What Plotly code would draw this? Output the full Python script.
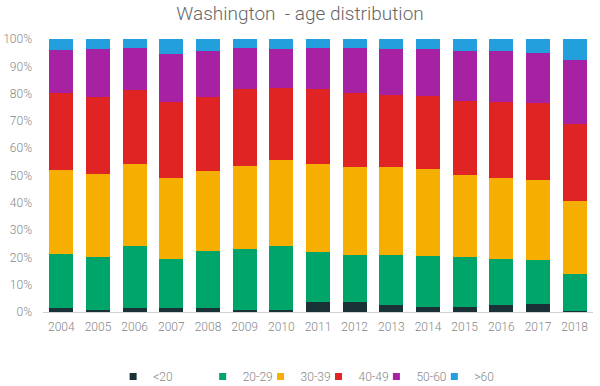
import plotly.graph_objects as go

years = ["2004", "2005", "2006", "2007", "2008", "2009", "2010", "2011",
         "2012", "2013", "2014", "2015", "2016", "2017", "2018"]

age_lt20 = [1.3, 0.9, 1.3, 1.3, 1.6, 0.9, 0.9, 3.5, 3.5, 2.4, 2.0, 2.0, 2.4, 3.1, 0.5]
age_20_29 = [20.1, 19.4, 23.0, 18.2, 20.7, 22.0, 23.4, 18.5, 17.5, 18.6, 18.6, 18.3, 17.1, 16.1, 13.6]
age_30_39 = [30.7, 30.3, 30.0, 29.7, 29.5, 30.7, 31.5, 32.3, 32.1, 32.1, 31.8, 30.0, 29.7, 29.2, 26.7]
age_40_49 = [28.2, 28.2, 27.1, 27.9, 27.0, 28.1, 26.4, 27.4, 27.2, 26.4, 26.9, 27.0, 27.9, 28.0, 28.2]
age_50_60 = [15.7, 17.5, 15.3, 17.4, 16.8, 15.0, 14.1, 15.0, 16.4, 16.8, 17.0, 18.3, 18.5, 18.5, 23.3]
age_gt60 = [4.0, 3.7, 3.3, 5.5, 4.4, 3.3, 3.7, 3.3, 3.3, 3.7, 3.7, 4.4, 4.4, 5.1, 7.7]

series_names = ["<20", "20-29", "30-39", "40-49", "50-60", ">60"]
series_values = [age_lt20, age_20_29, age_30_39, age_40_49, age_50_60, age_gt60]
colors = ["#1b3138", "#00a56a", "#f6af00", "#e02424", "#a622a3", "#229fdc"]
legend_x = [0.1275, 0.2903, 0.3956, 0.5009, 0.6062, 0.7115]

fig = go.Figure()
for name, vals, col in zip(series_names, series_values, colors):
    fig.add_trace(go.Bar(
        x=years, y=vals, name=name, marker=dict(color=col, line=dict(width=0)),
        showlegend=False, hovertemplate="%{x}: %{y:.1f}%<extra>" + name + "</extra>"))

legend_layouts = {}
for i, (name, col, lx) in enumerate(zip(series_names, colors, legend_x)):
    key = "legend" if i == 0 else "legend%d" % (i + 1)
    fig.add_trace(go.Scatter(
        x=[None], y=[None], mode="markers", name=name,
        marker=dict(symbol="square", size=7, color=col),
        legend=key))
    legend_layouts[key] = dict(
        orientation="h", x=lx, xanchor="left", y=-0.236, yanchor="middle",
        font=dict(size=12, color="#888888"), itemwidth=30,
        bgcolor="rgba(0,0,0,0)")

fig.update_layout(
    width=600, height=386,
    barmode="stack", bargap=0.35,
    paper_bgcolor="white", plot_bgcolor="white",
    margin=dict(l=43, r=7, t=39, b=73.5, autoexpand=False),
    font=dict(family="Roboto", color="#888888", size=12, weight=300),
    title=dict(text="Washington&nbsp; - age distribution", x=0.5, xanchor="center",
               y=0.966, yanchor="middle",
               font=dict(family="Roboto", size=19, color="#666666", weight=300)),
    xaxis=dict(type="category", showgrid=False, showline=True, linecolor="#d0d0d0",
               linewidth=1, ticks="", ticklabelstandoff=4,
               tickfont=dict(size=12, color="#888888")),
    yaxis=dict(range=[0, 100], dtick=10, ticksuffix="%", showgrid=False,
               zeroline=False, showline=False, ticks="", ticklabelstandoff=10,
               tickfont=dict(size=12, color="#888888")),
    **legend_layouts,
)

fig.write_html("out.html", config={"displayModeBar": False},
               post_script="document.body.style.margin='0px';")
